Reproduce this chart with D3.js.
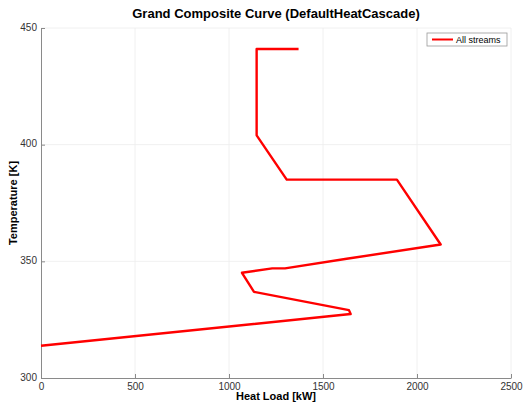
<!DOCTYPE html>
<html>
<head>
<meta charset="utf-8">
<script src="https://cdn.jsdelivr.net/npm/d3@7"></script>
<style>
  body { margin: 0; background: #fff; }
  text { font-family: "Liberation Sans", Arial, sans-serif; }
</style>
</head>
<body>
<div id="chart"></div>
<script>
// grand composite curve points
const heatLoad = [1370, 1147, 1147, 1307, 1893, 2126, 1626, 1298, 1230, 1069, 1133, 1638, 1647, 0];
const temperature = [441, 441, 404, 385, 385, 357.2, 351.1, 347, 347, 345.1, 336.9, 329.1, 327.4, 313.8];
const xTicks = [0, 500, 1000, 1500, 2000, 2500];
const yTicks = [300, 350, 400, 450];

const W = 523, H = 407;
const margin = { top: 28, right: 12, bottom: 29, left: 41 };
const w = W - margin.left - margin.right;
const h = H - margin.top - margin.bottom;

const svg = d3.select('#chart').append('svg')
    .attr('width', W).attr('height', H);

const g = svg.append('g')
    .attr('transform', 'translate(' + margin.left + ',' + margin.top + ')');

const x = d3.scaleLinear().domain([0, 2500]).range([0, w]);
const y = d3.scaleLinear().domain([300, 450]).range([h, 0]);

// grid
g.selectAll('.vgrid').data(xTicks.slice(1)).join('line')
    .attr('x1', d => x(d)).attr('x2', d => x(d))
    .attr('y1', 0).attr('y2', h)
    .attr('stroke', '#ececec').attr('stroke-width', 0.8);
g.selectAll('.hgrid').data(yTicks.slice(1)).join('line')
    .attr('x1', 0).attr('x2', w)
    .attr('y1', d => y(d)).attr('y2', d => y(d))
    .attr('stroke', '#ececec').attr('stroke-width', 0.8);

// axes
const xAxis = g.append('g')
    .attr('transform', 'translate(0,' + h + ')')
    .call(d3.axisBottom(x).tickValues(xTicks).tickFormat(d3.format('d'))
        .tickSizeInner(-4).tickSizeOuter(0).tickPadding(6));
const yAxis = g.append('g')
    .call(d3.axisLeft(y).tickValues(yTicks).tickFormat(d3.format('d'))
        .tickSizeInner(-4).tickSizeOuter(0).tickPadding(4));

[xAxis, yAxis].forEach(a => {
    a.select('.domain').attr('stroke', '#8a8a8a');
    a.selectAll('.tick line').attr('stroke', '#8a8a8a');
    a.selectAll('.tick text')
        .attr('font-family', '"Liberation Sans", Arial, sans-serif')
        .attr('font-size', 10).attr('fill', '#333');
});
xAxis.selectAll('.tick text').attr('dy', '0.55em');
yAxis.selectAll('.tick text').attr('dy', '0.2em');

// curve
const line = d3.line().x((d, i) => x(heatLoad[i])).y((d, i) => y(temperature[i]));
g.append('path')
    .datum(heatLoad)
    .attr('d', line)
    .attr('fill', 'none')
    .attr('stroke', '#ff0000')
    .attr('stroke-width', 2.4)
    .attr('stroke-linejoin', 'round');

// title and labels
svg.append('text')
    .attr('x', margin.left + w / 2).attr('y', 18)
    .attr('text-anchor', 'middle')
    .attr('font-size', 13).attr('font-weight', 'bold')
    .text('Grand Composite Curve (DefaultHeatCascade)');

svg.append('text')
    .attr('x', margin.left + w / 2).attr('y', 400)
    .attr('text-anchor', 'middle')
    .attr('font-size', 11).attr('font-weight', 'bold')
    .text('Heat Load [kW]');

svg.append('text')
    .attr('transform', 'translate(17,' + (margin.top + h / 2) + ') rotate(-90)')
    .attr('text-anchor', 'middle')
    .attr('font-size', 11).attr('font-weight', 'bold')
    .text('Temperature [K]');

// legend
const leg = svg.append('g').attr('transform', 'translate(427,33)');
leg.append('rect')
    .attr('width', 80).attr('height', 13)
    .attr('fill', '#fff').attr('stroke', '#999').attr('stroke-width', 0.8);
leg.append('line')
    .attr('x1', 5).attr('x2', 26).attr('y1', 6.5).attr('y2', 6.5)
    .attr('stroke', '#ff0000').attr('stroke-width', 2);
leg.append('text')
    .attr('x', 29).attr('y', 10)
    .attr('font-size', 9)
    .text('All streams');
</script>
</body>
</html>
